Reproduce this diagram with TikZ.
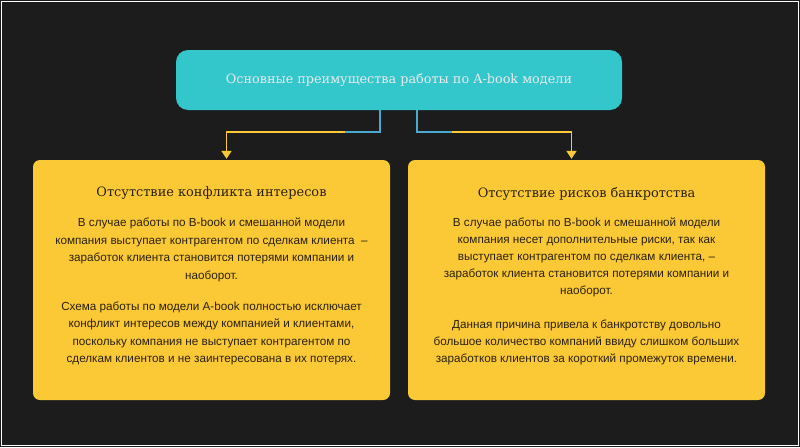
\documentclass[tikz,border=0pt]{standalone}
\usepackage{fontspec}
\setmainfont{Liberation Sans}
\newfontfamily\slabfont{DejaVu Serif}
\usetikzlibrary{positioning,arrows.meta}

\definecolor{bgdark}{HTML}{1C1C1C}
\definecolor{tealbox}{HTML}{33C7CC}
\definecolor{sunbox}{HTML}{FBC935}
\definecolor{inkdark}{HTML}{2B2112}
\definecolor{linkblue}{HTML}{4AA9CF}

\begin{document}
\begin{tikzpicture}[
    x=1pt, y=-1pt,
    topbox/.style={fill=tealbox, rounded corners=12pt, minimum width=446pt, minimum height=60pt,
        text=white!92!black, font=\slabfont\fontsize{12.8}{15}\selectfont},
    cardbox/.style={fill=sunbox, rounded corners=7pt, minimum width=357pt, minimum height=240pt},
    cardhead/.style={text=inkdark, inner sep=0pt, font=\slabfont\fontsize{12.9}{15}\selectfont},
    cardtext/.style={text=inkdark, inner sep=0pt, align=center, font=\fontsize{11.7}{17.6}\selectfont},
    linkin/.style={linkblue, line width=1.6pt},
    linkout/.style={sunbox, line width=1.6pt, -{Triangle[length=8pt,width=10pt]}, shorten >=1pt}
]
\useasboundingbox (0,0) rectangle (800,447);
\fill[bgdark] (0,0) rectangle (800,447);
\draw[white, line width=1.2pt] (1.5,1.5) rectangle (798.5,445.5);

\node[topbox] (title) at (399,80) {Основные преимущества работы по A-book модели};
\node[cardbox] (conflict) at (211.5,280) {};
\node[cardbox] (bankrupt) at (586.5,280) {};

% headings
\node[cardhead, below=27pt of conflict.north] (conflicthead) {Отсутствие конфликта интересов};
\node[cardhead, below=27pt of bankrupt.north] (bankrupthead) {Отсутствие рисков банкротства};

% body text
\node[cardtext, below=18pt of conflicthead] (conflicttext) {В случае работы по B-book и смешанной модели\\
компания выступает контрагентом по сделкам клиента\ \ –\\
заработок клиента становится потерями компании и\\
наоборот.\\[13pt]
Схема работы по модели A-book полностью исключает\\
конфликт интересов между компанией и клиентами,\\
поскольку компания не выступает контрагентом по\\
сделкам клиентов и не заинтересована в их потерях.};
\node[cardtext, below=18pt of bankrupthead] (bankrupttext) {В случае работы по B-book и смешанной модели\\[-0.6pt]
компания несет дополнительные риски, так как\\[-0.6pt]
выступает контрагентом по сделкам клиента, –\\[-0.6pt]
заработок клиента становится потерями компании и\\[-0.6pt]
наоборот.\\[16pt]
Данная причина привела к банкротству довольно\\[-0.6pt]
большое количество компаний ввиду слишком больших\\[-0.6pt]
заработков клиентов за короткий промежуток времени.};

% connectors
\coordinate (splitl) at ([xshift=-19pt, yshift=-22pt]title.south);
\coordinate (splitr) at ([xshift=18pt, yshift=-22pt]title.south);
\draw[linkin] ([xshift=-19pt]title.south) -- (splitl) -- ++(-35,0) coordinate (fadel);
\draw[linkout] (fadel) -| ([xshift=15pt]conflict.north);
\draw[linkin] ([xshift=18pt]title.south) -- (splitr) -- ++(35,0) coordinate (fader);
\draw[linkout] (fader) -| ([xshift=-15pt]bankrupt.north);
\end{tikzpicture}
\end{document}
